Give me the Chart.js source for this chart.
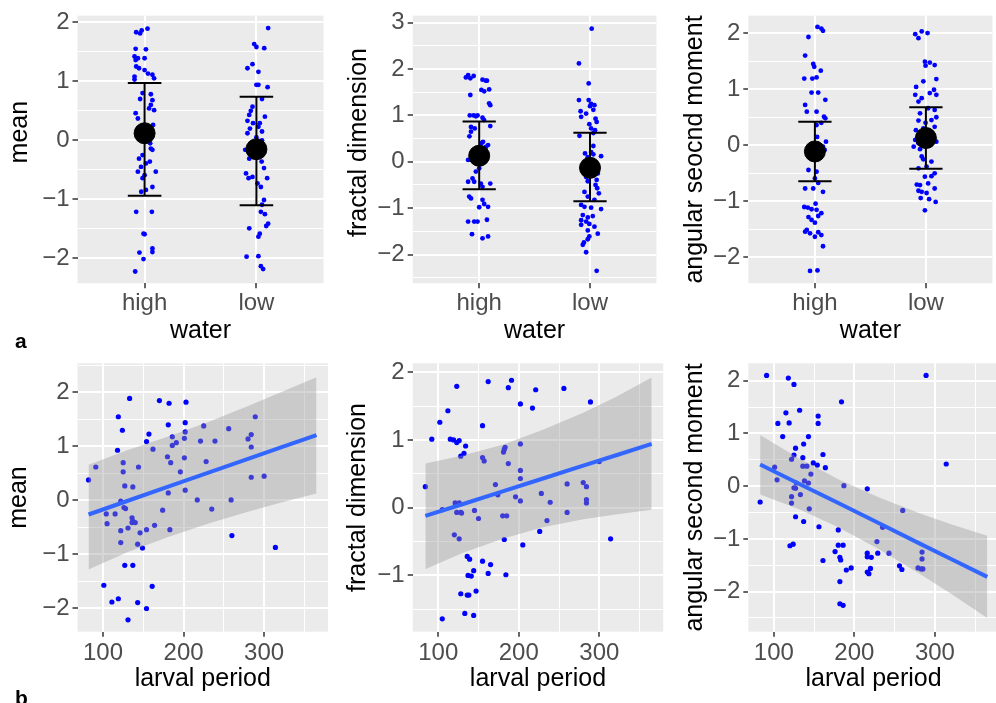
<!DOCTYPE html>
<html>
<head>
<meta charset="utf-8">
<script src="https://cdn.jsdelivr.net/npm/chart.js@4.4.0/dist/chart.umd.min.js"></script>
<style>
  html, body { margin: 0; padding: 0; background: #fff; }
  body { width: 996px; height: 703px; overflow: hidden; position: relative; }
  .panel { position: absolute; }
  .panel canvas { display: block; }
  .tag { position: absolute; font: bold 21px/21px 'Liberation Sans', Arial, sans-serif; color: #000; }
</style>
</head>
<body>
<div class="panel" style="left:0px;top:0px"><canvas id="a1" width="335" height="346"></canvas></div>
<div class="panel" style="left:335px;top:0px"><canvas id="a2" width="333" height="346"></canvas></div>
<div class="panel" style="left:668px;top:0px"><canvas id="a3" width="336" height="346"></canvas></div>
<div class="panel" style="left:0px;top:346px"><canvas id="b1" width="335" height="357"></canvas></div>
<div class="panel" style="left:335px;top:346px"><canvas id="b2" width="333" height="357"></canvas></div>
<div class="panel" style="left:668px;top:346px"><canvas id="b3" width="336" height="357"></canvas></div>
<div class="tag" style="left:15px;top:330px">a</div>
<div class="tag" style="left:15px;top:687px">b</div>
<script>
// ---- a: traits by water treatment (jittered points + mean +/- sd) ----
const waterGroups = ['high', 'low'];

const meanHighVals = [1.89, 1.86, 1.81, 1.83, 1.55, 1.54, 1.42, 1.39, 1.36, 1.39, 1.25, 1.22, 1.19, 1.13, 1.11, 1.08, 1.05, 1.03,
  0.80, 0.78, 0.70, 0.68, 0.60, 0.54, 0.51, 0.46, 0.37, 0.26, 0.15, 0.05, -0.05, 0.20, -0.14, -0.16, -0.25, -0.31, -0.36,
  -0.39, -0.45, -0.53, -0.53, -0.59, -0.64, -0.79, -0.87, -0.84, -1.21, -1.21, -1.58, -1.59, -1.83, -1.89, -1.90, -2.01, -2.22];
const meanHighJit = [0.026, -0.026, -0.04, -0.075, -0.08, 0.012, -0.09, -0.06, -0.08, 0, -0.075, -0.05, 0, 0.03, 0.07, -0.09, 0.085, -0.09,
  -0.018, 0.056, -0.04, 0.07, 0.056, 0.04, 0.085, -0.08, -0.06, 0.076, 0.03, -0.02, 0.05, -0.06, 0.056, 0.07, -0.018, -0.05, 0.047,
  0.012, -0.032, 0.1, -0.06, 0, -0.018, 0.07, -0.03, 0.012, -0.075, 0.065, -0.01, 0, 0.07, 0.07, -0.046, -0.01, -0.084];
const meanLowVals = [1.90, 1.63, 1.58, 1.56, 1.29, 1.22, 1.16, 0.94, 0.94, 0.90, 0.70, 0.57, 0.50, 0.40, 0.43, 0.33, 0.29, 0.29, 0.23,
  0.20, 0.12, 0.15, 0.05, 0.0, -0.05, -0.10, -0.25, -0.16, -0.19, -0.31, -0.36, -0.47, -0.56, -0.62, -0.64, -0.64, -0.73, -0.79,
  -1.01, -1.09, -1.21, -1.25, -1.41, -1.45, -1.49, -1.58, -1.63, -1.97, -1.96, -2.13, -2.18];
const meanLowJit = [0.105, -0.02, 0, 0.07, -0.035, -0.08, 0.018, 0, 0.018, 0.1, 0.05, -0.035, -0.05, 0.076, -0.064, -0.08, -0.03, 0.03, 0.018,
  -0.058, -0.08, 0.05, 0, 0.05, -0.02, 0.03, -0.04, -0.1, 0.068, -0.064, 0.047, 0.068, -0.093, -0.035, -0.07, 0.096, 0.01, 0.04,
  0.068, 0.05, 0.04, 0.076, 0.105, 0.088, -0.064, 0.03, 0.018, -0.088, 0.018, 0.04, 0.06];
const meanMid = [0.12, -0.15];
const meanLo = [-0.94, -1.10];
const meanHi = [0.97, 0.74];

const fracHighVals = [1.87, 1.85, 1.80, 1.82, 1.77, 1.75, 1.75, 1.56, 1.55, 1.52, 1.44, 1.26, 1.22, 1.0, 1.0, 1.0, 0.98, 0.95, 0.90,
  0.75, 0.72, 0.77, 0.55, 0.65, 0.43, 0.40, 0.36, 0.32, 0.20, 0.15, 0.05, 0.04, 0.04, -0.14, -0.21, -0.36, -0.43, -0.47, -0.47,
  -0.43, -0.54, -0.75, -0.79, -0.82, -0.91, -0.97, -0.98, -1.29, -1.29, -1.29, -1.25, -1.56, -1.65, -1.61];
const fracHighJit = [-0.1, -0.05, -0.08, -0.12, 0.03, 0.06, 0.07, 0.09, 0.02, 0.045, -0.08, 0.09, 0.1, -0.085, -0.05, -0.015, -0.03, 0.03, 0.044,
  -0.074, -0.04, 0.1, -0.088, -0.074, 0.035, 0.02, 0.08, 0.06, 0.05, -0.03, 0, -0.1, -0.07, 0, -0.03, -0.06, -0.045, 0.015, 0.1,
  -0.1, 0.03, -0.09, -0.074, 0.03, 0.045, 0.08, 0, -0.045, -0.015, -0.1, 0.07, -0.065, 0.03, 0.08];
const fracLowVals = [2.87, 2.12, 1.69, 1.33, 1.33, 1.25, 1.22, 1.20, 1.12, 1.09, 1.04, 0.97, 0.93, 0.86, 0.81, 0.72, 0.68, 0.62, 0.56,
  0.34, 0.21, 0.18, 0.10, 0.16, 0.12, -0.05, -0.10, -0.20, -0.25, -0.30, -0.33, -0.39, -0.42, -0.50, -0.57, -0.68, -0.65, -0.75,
  -0.82, -0.93, -0.97, -0.99, -1.02, -1.15, -1.20, -1.17, -1.26, -1.29, -1.34, -1.36, -1.40, -1.48, -1.55, -1.61, -1.67, -1.74,
  -1.79, -1.95, -2.35];
const fracLowJit = [0.015, -0.1, -0.012, -0.1, -0.012, 0.01, 0.04, 0, 0.03, -0.085, -0.035, -0.08, 0.05, 0.06, -0.006, 0.01, 0.045, 0.03, -0.095,
  0.03, 0.01, -0.045, -0.02, 0.03, 0.1, 0, -0.03, 0.04, 0.07, 0.01, -0.035, 0.06, -0.02, 0.05, 0.065, 0.08, -0.05, -0.02,
  0.04, -0.08, -0.05, 0.01, 0.1, -0.065, -0.02, 0.025, -0.08, -0.035, -0.006, -0.08, 0.04, -0.02, 0.07, -0.006, -0.02, -0.055,
  -0.065, -0.035, 0.06];
const fracMid = [0.13, -0.13];
const fracLo = [-0.59, -0.85];
const fracHi = [0.87, 0.625];

const asmHighVals = [2.11, 2.08, 2.04, 1.93, 1.60, 1.45, 1.40, 1.33, 1.19, 1.19, 1.21, 0.94, 0.94, 0.81, 0.72, 0.60, 0.60, 0.51, 0.48,
  0.40, 0.36, 0.15, 0.0, -0.10, -0.20, 0.065, -0.024, -0.084, -0.20, -0.47, -0.44, -0.59, -0.67, -0.77, -0.77, -0.83, -1.04, -1.10,
  -1.11, -1.14, -1.15, -1.21, -1.26, -1.28, -1.33, -1.38, -1.51, -1.54, -1.55, -1.57, -1.60, -1.63, -1.80, -2.24, -2.23];
const asmHighJit = [0.023, 0.058, 0.073, -0.058, -0.088, -0.015, -0.006, 0.053, -0.096, -0.023, 0.015, -0.03, 0.03, 0.094, -0.088, -0.073, 0.015, 0.082, 0.094,
  0.058, 0.015, 0.02, 0.04, 0, -0.03, 0.1, 0.073, 0.088, -0.044, 0.015, -0.058, 0, 0.03, -0.088, -0.015, 0.073, 0.006, -0.096,
  -0.064, -0.03, 0.015, 0.058, 0.03, -0.058, -0.03, 0, -0.073, -0.088, 0.03, -0.044, 0.058, 0, 0.073, -0.044, 0.023];
const asmLowVals = [1.98, 2.03, 2.00, 1.91, 1.49, 1.475, 1.43, 1.42, 1.18, 1.14, 1.04, 0.99, 0.93, 0.90, 0.90, 0.84, 0.78, 0.66, 0.63,
  0.57, 0.50, 0.45, 0.44, 0.40, 0.27, 0.30, 0.33, 0.15, 0.10, 0.20, 0.0, 0.095, 0.036, 0.065, -0.024, -0.07, -0.20, -0.25, -0.29,
  -0.38, -0.41, -0.50, -0.56, -0.55, -0.71, -0.70, -0.68, -0.77, -0.83, -0.81, -0.85, -0.94, -0.96, -1.01, -1.16];
const asmLowJit = [-0.096, -0.038, 0.015, -0.067, -0.009, 0.035, 0.079, -0.003, 0.094, -0.023, -0.088, 0.073, 0.035, 0.094, -0.096, -0.038, -0.067, 0.02, 0.079,
  -0.053, 0.094, 0.05, -0.067, -0.003, -0.09, -0.023, 0.079, 0, 0.03, -0.02, 0.04, -0.096, -0.067, 0.094, -0.11, -0.053, -0.038, -0.023, 0.05,
  0.006, -0.067, 0.079, -0.009, 0.05, -0.053, -0.082, 0.02, 0.079, -0.038, -0.067, 0.006, -0.047, 0.029, 0.088, -0.009];
const asmMid = [-0.11, 0.13];
const asmLo = [-0.64, -0.42];
const asmHi = [0.42, 0.68];

// ---- b: traits against larval period (points + lm fit with 95% band) ----
const meanLarval = [82, 91, 133, 170, 182, 203, 119, 202, 181, 124, 202, 225, 256, 289, 284, 280, 284, 157, 186, 154, 201, 221, 239, 191, 186,
  118, 162, 180, 201, 228, 184, 125, 144, 196, 125, 284, 300, 127, 137, 202, 181, 217, 259, 122, 126, 128, 174, 235, 104, 115,
  136, 137, 140, 136, 105, 164, 131, 122, 154, 183, 146, 122, 143, 149, 260, 314, 127, 137, 101, 161, 119, 111, 143, 154, 131];
const meanTrait = [0.38, 0.62, 1.89, 1.85, 1.80, 1.82, 1.55, 1.44, 1.40, 1.30, 1.27, 1.38, 1.33, 1.55, 1.22, 1.14, 0.99, 1.23, 1.18, 1.09, 1.15, 1.10, 1.10, 1.07, 1.02,
  0.93, 0.95, 0.81, 0.79, 0.72, 0.70, 0.70, 0.62, 0.53, 0.53, 0.43, 0.45, 0.27, 0.25, 0.19, 0.14, 0.01, 0.01, -0.01, -0.13, -0.15, -0.18, -0.16, -0.25, -0.25,
  -0.32, -0.38, -0.41, -0.41, -0.43, -0.46, -0.51, -0.56, -0.54, -0.54, -0.60, -0.78, -0.81, -0.88, -0.65, -0.87, -1.20, -1.20, -1.57, -1.59, -1.82, -1.88, -1.89, -2.00, -2.21];
const meanFitX = [82, 130, 180, 230, 280, 320, 365];
const meanFitY = [-0.26, -0.01, 0.25, 0.51, 0.77, 0.98, 1.21];
const meanFitLo = [-1.28, -0.96, -0.68, -0.43, -0.21, -0.04, 0.13];
const meanFitHi = [0.66, 0.93, 1.18, 1.45, 1.75, 2.00, 2.28];

const fracLarval = [84, 92, 102, 112, 123, 115, 119, 123, 126, 134, 132, 128, 162, 191, 187, 221, 256, 289, 202, 217, 155, 182, 181, 183,
  155, 157, 187, 202, 202, 202, 171, 174, 196, 202, 228, 239, 260, 280, 284, 284, 284, 300, 121, 126, 123, 128, 129, 105, 145,
  150, 180, 185, 235, 260, 226, 120, 126, 182, 205, 314, 136, 139, 155, 165, 137, 141, 144, 162, 184, 128, 136, 138, 147, 133, 144, 105];
const fracTrait = [0.31, 1.01, 1.26, 1.43, 1.79, 1.01, 1.00, 0.96, 0.99, 0.91, 0.80, 0.76, 1.86, 1.88, 1.77, 1.74, 1.76, 1.56, 1.53, 1.47, 1.21, 0.86, 0.82, 0.89,
  0.74, 0.69, 0.65, 0.94, 0.55, 0.43, 0.34, 0.19, 0.16, 0.10, 0.21, 0.08, 0.35, 0.37, 0.31, 0.12, 0.07, 0.68, 0.07, 0.07, -0.07, -0.07, -0.08, -0.03, -0.04,
  -0.16, -0.12, -0.12, -0.19, -0.07, -0.35, -0.40, -0.46, -0.47, -0.55, -0.46, -0.72, -0.76, -0.79, -0.84, -1.00, -1.01, -0.93, -0.97, -0.99, -1.27, -1.29, -1.29, -1.23, -1.56, -1.59, -1.64];
const fracFitX = [84, 130, 180, 230, 280, 320, 365];
const fracFitY = [-0.12, 0.05, 0.24, 0.43, 0.62, 0.77, 0.94];
const fracFitLo = [-0.91, -0.67, -0.46, -0.29, -0.17, -0.10, -0.03];
const fracFitHi = [0.65, 0.77, 0.93, 1.15, 1.40, 1.63, 1.92];

const asmLarval = [91, 118, 125, 289, 184, 132, 115, 155, 155, 105, 119, 111, 143, 137, 127, 125, 161, 136, 122, 149, 154, 314, 136, 141,
  164, 101, 146, 104, 138, 143, 128, 187, 125, 127, 216, 133, 122, 83, 122, 144, 260, 127, 137, 156, 180, 235, 228, 120, 124,
  180, 186, 176, 216, 216, 229, 243, 221, 182, 183, 161, 284, 284, 190, 196, 220, 216, 218, 256, 259, 279, 283, 285, 182, 182, 186];
const asmTrait = [2.10, 2.05, 1.93, 2.10, 1.60, 1.44, 1.39, 1.33, 1.19, 1.19, 1.20, 0.94, 0.94, 0.80, 0.72, 0.59, 0.60, 0.54, 0.51, 0.44, 0.40, 0.42, 0.38, 0.38,
  0.35, 0.36, 0.23, 0.12, 0.10, 0.06, 0.06, 0.01, -0.03, -0.04, -0.05, -0.16, -0.20, -0.30, -0.32, -0.43, -0.46, -0.58, -0.67, -0.77, -0.83, -0.78, -1.05, -1.13, -1.10,
  -1.12, -1.12, -1.24, -1.27, -1.34, -1.27, -1.27, -1.35, -1.35, -1.40, -1.41, -1.25, -1.38, -1.59, -1.55, -1.56, -1.63, -1.66, -1.51, -1.58, -1.55, -1.57, -1.57, -1.81, -2.23, -2.26];
const asmFitX = [83, 130, 180, 230, 280, 320, 365];
const asmFitY = [0.41, 0.055, -0.32, -0.70, -1.08, -1.38, -1.72];
const asmFitLo = [-0.16, -0.43, -0.78, -1.19, -1.65, -2.04, -2.50];
const asmFitHi = [0.97, 0.54, 0.13, -0.21, -0.51, -0.72, -0.94];

const larvalMajor = [100, 200, 300];
const larvalMinor = [150, 250, 350];

Chart.defaults.font.family = "'Liberation Sans', Arial, sans-serif";
Chart.defaults.color = '#4D4D4D';

// grey panel like theme_grey
Chart.register({
  id: 'panelBg',
  beforeDraw(chart) {
    const { ctx, chartArea: a } = chart;
    ctx.save();
    ctx.fillStyle = '#EBEBEB';
    ctx.fillRect(a.left, a.top, a.right - a.left, a.bottom - a.top);
    ctx.restore();
  }
});

const TICK_SIZE = 24;
const TITLE_SIZE = 25;

function fmt(v) {
  return v < 0 ? '\u2212' + Math.abs(v) : String(v);
}

function gridOpts() {
  return {
    color: '#FFFFFF',
    lineWidth: c => (c.tick && c.tick.minor ? 1 : 2),
    drawTicks: true,
    tickLength: 5,
    tickWidth: 1.5,
    tickColor: c => (c.tick && c.tick.minor ? 'rgba(0,0,0,0)' : '#333333')
  };
}

function tickList(major, minor) {
  return major.map(v => ({ value: v }))
    .concat(minor.map(v => ({ value: v, minor: true })))
    .sort((a, b) => a.value - b.value);
}

function yScale(min, max, major, minor, title, width, titlePad) {
  return {
    type: 'linear', min, max,
    afterFit: s => { s.width = width; },
    afterBuildTicks: s => { s.ticks = tickList(major, minor); },
    grid: gridOpts(),
    border: { display: false },
    ticks: {
      autoSkip: false, padding: 3, color: '#4D4D4D',
      font: { size: TICK_SIZE, lineHeight: 1 },
      callback: (v, i, t) => (t[i].minor ? '' : fmt(v))
    },
    title: {
      display: true, text: title, color: '#000000',
      font: { size: TITLE_SIZE, lineHeight: 1.2 },
      padding: { top: titlePad, bottom: 0 }
    }
  };
}

function xScale(opts) {
  return {
    type: 'linear', min: opts.min, max: opts.max,
    afterFit: s => { s.height = opts.height; },
    afterBuildTicks: s => { s.ticks = tickList(opts.major, opts.minor); },
    grid: gridOpts(),
    border: { display: false },
    ticks: {
      autoSkip: false, padding: opts.tickPad, color: '#4D4D4D', maxRotation: 0,
      font: { size: TICK_SIZE, lineHeight: 1 },
      callback: opts.label
    },
    title: {
      display: true, text: opts.title, color: '#000000',
      font: { size: TITLE_SIZE, lineHeight: 1.2 },
      padding: { top: 0, bottom: opts.titlePad }
    }
  };
}

function pts(xs, ys) {
  return xs.map((x, i) => ({ x: x, y: ys[i] }));
}

function segment(a, b, width) {
  return {
    data: [a, b], showLine: true, borderColor: '#000000', borderWidth: width,
    pointRadius: 0, fill: false, order: 1
  };
}

// canvas boxes and plot areas, in page pixels
const cols = [
  { L: 0, W: 335, l: 77.5, r: 328 },
  { L: 335, W: 333, l: 412.7, r: 663.2 },
  { L: 668, W: 336, l: 748.3, r: 998.8 }
];
const topRow = { T: 0, H: 346, t: 15.7, b: 283.3 };
const botRow = { T: 346, H: 357, t: 363.3, b: 631.7 };

function stripChart(id, col, spec) {
  const hi = pts(spec.highJit.map(j => 1 + j), spec.highVals);
  const lo = pts(spec.lowJit.map(j => 2 + j), spec.lowVals);
  const datasets = [{
    data: [{ x: 1, y: spec.mid[0] }, { x: 2, y: spec.mid[1] }],
    showLine: false, pointRadius: 10.5, pointBackgroundColor: '#000', pointBorderColor: '#000', order: 0
  }];
  [1, 2].forEach((c, i) => {
    datasets.push(segment({ x: c, y: spec.lo[i] }, { x: c, y: spec.hi[i] }, 2));
    datasets.push(segment({ x: c - 0.15, y: spec.lo[i] }, { x: c + 0.15, y: spec.lo[i] }, 2));
    datasets.push(segment({ x: c - 0.15, y: spec.hi[i] }, { x: c + 0.15, y: spec.hi[i] }, 2));
  });
  datasets.push({
    data: hi.concat(lo), showLine: false, pointRadius: 2.4, pointBorderWidth: 0,
    pointBackgroundColor: '#0000FF', order: 2
  });
  new Chart(document.getElementById(id), {
    type: 'line',
    data: { datasets },
    options: {
      responsive: false, animation: false, events: [],
      layout: { padding: { left: 0, top: topRow.t - topRow.T, right: col.L + col.W - col.r, bottom: 0 } },
      plugins: { legend: { display: false }, tooltip: { enabled: false } },
      scales: {
        x: xScale({
          min: 0.4, max: 2.6, major: [1, 2], minor: [], height: topRow.T + topRow.H - topRow.b,
          tickPad: 3.5, titlePad: 0, title: 'water',
          label: v => waterGroups[v - 1]
        }),
        y: yScale(spec.ymin, spec.ymax, spec.major, spec.minor, spec.title, col.l - col.L, spec.titlePad)
      }
    }
  });
}

function fitChart(id, col, spec) {
  const datasets = [
    { data: pts(spec.fitX, spec.fitY), showLine: true, borderColor: '#3366FF', borderWidth: 4,
      pointRadius: 0, fill: false, order: 0 },
    { data: pts(spec.fitX, spec.fitHi), showLine: true, borderWidth: 0, borderColor: 'rgba(0,0,0,0)',
      pointRadius: 0, fill: '+1', backgroundColor: 'rgba(153,153,153,0.4)', order: 1 },
    { data: pts(spec.fitX, spec.fitLo), showLine: true, borderWidth: 0, borderColor: 'rgba(0,0,0,0)',
      pointRadius: 0, fill: false, order: 2 },
    { data: pts(spec.x, spec.y), showLine: false, pointRadius: 2.6, pointBorderWidth: 0,
      pointBackgroundColor: '#0000FF', order: 3 }
  ];
  new Chart(document.getElementById(id), {
    type: 'line',
    data: { datasets },
    options: {
      responsive: false, animation: false, events: [],
      layout: { padding: { left: 0, top: botRow.t - botRow.T, right: col.L + col.W - col.r, bottom: 0 } },
      plugins: { legend: { display: false }, tooltip: { enabled: false } },
      scales: {
        x: xScale({
          min: 68.3, max: 379.3, major: larvalMajor, minor: larvalMinor, height: botRow.T + botRow.H - botRow.b,
          tickPad: 4.5, titlePad: 9, title: 'larval period',
          label: (v, i, t) => (t[i].minor ? '' : String(v))
        }),
        y: yScale(spec.ymin, spec.ymax, spec.major, spec.minor, spec.title, col.l - col.L, spec.titlePad)
      }
    }
  });
}

// leading spaces nudge the rotated titles up, as in the original figure
stripChart('a1', cols[0], {
  highVals: meanHighVals, highJit: meanHighJit, lowVals: meanLowVals, lowJit: meanLowJit,
  mid: meanMid, lo: meanLo, hi: meanHi,
  ymin: -2.42, ymax: 2.11, major: [-2, -1, 0, 1, 2], minor: [-1.5, -0.5, 0.5, 1.5],
  title: '     mean', titlePad: 5
});
stripChart('a2', cols[1], {
  highVals: fracHighVals, highJit: fracHighJit, lowVals: fracLowVals, lowJit: fracLowJit,
  mid: fracMid, lo: fracLo, hi: fracHi,
  ymin: -2.62, ymax: 3.15, major: [-2, -1, 0, 1, 2, 3], minor: [-2.5, -1.5, -0.5, 0.5, 1.5, 2.5],
  title: '  fractal dimension', titlePad: 9
});
stripChart('a3', cols[2], {
  highVals: asmHighVals, highJit: asmHighJit, lowVals: asmLowVals, lowJit: asmLowJit,
  mid: asmMid, lo: asmLo, hi: asmHi,
  ymin: -2.46, ymax: 2.31, major: [-2, -1, 0, 1, 2], minor: [-1.5, -0.5, 0.5, 1.5],
  title: 'angular seocnd moment', titlePad: 12
});

fitChart('b1', cols[0], {
  x: meanLarval, y: meanTrait, fitX: meanFitX, fitY: meanFitY, fitLo: meanFitLo, fitHi: meanFitHi,
  ymin: -2.43, ymax: 2.54, major: [-2, -1, 0, 1, 2], minor: [-1.5, -0.5, 0.5, 1.5, 2.5],
  title: 'mean', titlePad: 4
});
fitChart('b2', cols[1], {
  x: fracLarval, y: fracTrait, fitX: fracFitX, fitY: fracFitY, fitLo: fracFitLo, fitHi: fracFitHi,
  ymin: -1.83, ymax: 2.13, major: [-1, 0, 1, 2], minor: [-1.5, -0.5, 0.5, 1.5],
  title: 'fractal dimension', titlePad: 8
});
fitChart('b3', cols[2], {
  x: asmLarval, y: asmTrait, fitX: asmFitX, fitY: asmFitY, fitLo: asmFitLo, fitHi: asmFitHi,
  ymin: -2.76, ymax: 2.33, major: [-2, -1, 0, 1, 2], minor: [-2.5, -1.5, -0.5, 0.5, 1.5],
  title: 'angular second moment', titlePad: 12
});
</script>
</body>
</html>
